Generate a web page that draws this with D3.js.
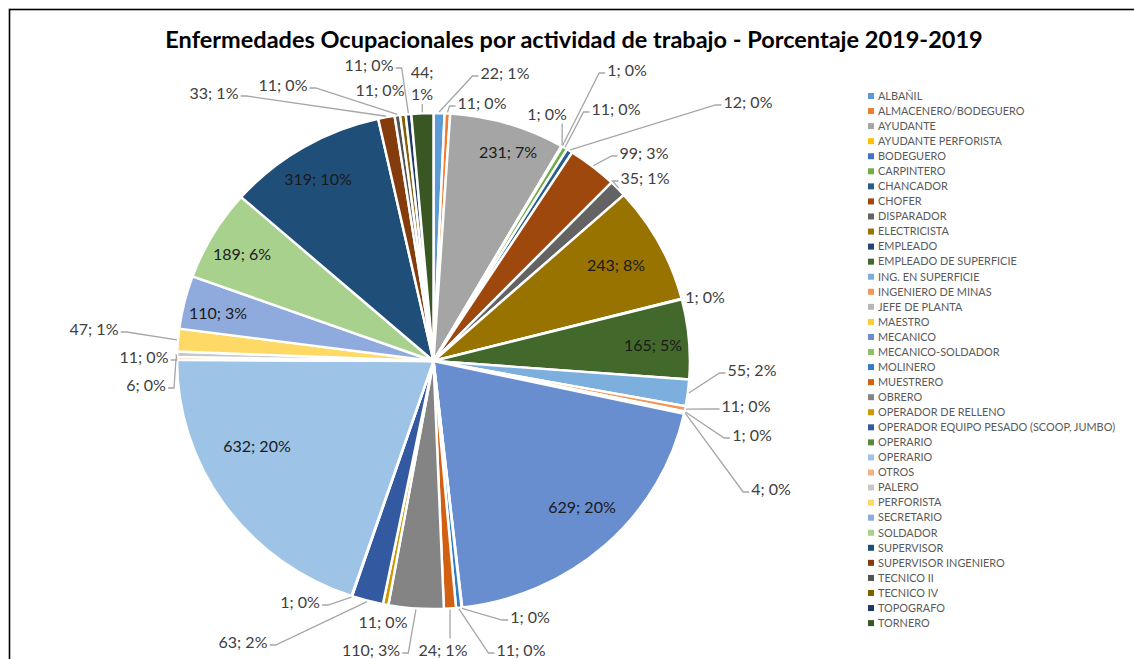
<!DOCTYPE html>
<html><head><meta charset="utf-8">
<script src="https://cdn.jsdelivr.net/npm/d3@7"></script>
<style>
body{margin:0;background:#fff}
svg{display:block}
text{font-family:Lato,"Open Sans",sans-serif}
</style>
</head><body>
<svg id="c" width="1134" height="659"></svg>
<script>
const title = "Enfermedades Ocupacionales por actividad de trabajo - Porcentaje 2019-2019";
const categories = ["ALBAÑIL","ALMACENERO/BODEGUERO","AYUDANTE","AYUDANTE PERFORISTA","BODEGUERO","CARPINTERO","CHANCADOR","CHOFER","DISPARADOR","ELECTRICISTA","EMPLEADO","EMPLEADO DE SUPERFICIE","ING. EN SUPERFICIE","INGENIERO DE MINAS","JEFE DE PLANTA","MAESTRO","MECANICO","MECANICO-SOLDADOR","MOLINERO","MUESTRERO","OBRERO","OPERADOR DE RELLENO","OPERADOR EQUIPO PESADO (SCOOP, JUMBO)","OPERARIO","OPERARIO","OTROS","PALERO","PERFORISTA","SECRETARIO","SOLDADOR","SUPERVISOR","SUPERVISOR INGENIERO","TECNICO II","TECNICO IV","TOPOGRAFO","TORNERO"];
const values = [22,11,231,1,1,11,12,99,35,243,1,165,55,11,1,4,629,1,11,24,110,11,63,1,632,6,11,47,110,189,319,33,11,11,11,44];
const colors = ["#5B9BD5","#ED7D31","#A5A5A5","#FFC000","#4472C4","#70AD47","#255E91","#9E480E","#636363","#997300","#264478","#43682B","#7CAFDD","#F1975A","#B7B7B7","#FFCD33","#698ED0","#8CC168","#327DC2","#D26012","#848484","#CC9A00","#335AA1","#5A8A39","#9DC3E6","#F4B183","#C9C9C9","#FFD966","#8FAADC","#A9D18E","#1F4E79","#843C0C","#525252","#7F6000","#203864","#385723"];

// label placement (layout only): text centre and leader style
const labelLayout = [
  {m:"out",x:505,y:73,l:"side"},{m:"out",x:482,y:103,l:"side"},{m:"in",x:508,y:152},
  {m:"out",x:547,y:114,l:"v"},{m:"out",x:627,y:70,l:"side"},{m:"out",x:616,y:109,l:"side"},
  {m:"out",x:748,y:102,l:"side"},{m:"out",x:644,y:153,l:"side"},{m:"out",x:645,y:178,l:"side"},
  {m:"in",x:616,y:265},{m:"out",x:705,y:297,l:"none"},{m:"in",x:653,y:345},
  {m:"out",x:752,y:370,l:"side"},{m:"out",x:746,y:406,l:"side"},{m:"out",x:752,y:435,l:"side"},
  {m:"out",x:771,y:489,l:"side"},{m:"in",x:582,y:507},{m:"out",x:530,y:617,l:"side"},
  {m:"out",x:521,y:650,l:"side"},{m:"out",x:443,y:650,l:"v"},{m:"out",x:371,y:650,l:"side"},
  {m:"out",x:383,y:622,l:"none"},{m:"out",x:243,y:642,l:"side"},{m:"out",x:300,y:602,l:"side"},
  {m:"in",x:257,y:446},{m:"out",x:146,y:385,l:"side"},{m:"out",x:144,y:357,l:"side"},
  {m:"out",x:94,y:329,l:"side"},{m:"in",x:218,y:313},{m:"in",x:242,y:254},
  {m:"in",x:318,y:179},{m:"out",x:214,y:93,l:"side"},{m:"out",x:283,y:85,l:"side"},
  {m:"out",x:380,y:90,l:"none"},{m:"out",x:369,y:65,l:"side"},{m:"out",x:422,y:84,l:"v",wrap:true}
];

const svg = d3.select("#c");
const cx = 433.5, cy = 361, r = 248, sx = 1.034;

// frame
svg.append("rect").attr("x",9.5).attr("y",9.5).attr("width",1400).attr("height",900)
  .attr("fill","#fff").attr("stroke","#000").attr("stroke-width",1.6);

// title fitted to reference width
const t = svg.append("text").attr("x",574).attr("y",48).attr("text-anchor","middle")
  .attr("font-weight","bold").attr("font-size",22).attr("fill","#000").text(title);
const tw = t.node().getComputedTextLength();
t.attr("font-size", 22*818/tw);

const total = d3.sum(values);
const data = categories.map((c,i)=>({c, v:values[i], i}));
const pie = d3.pie().value(d=>d.v).sort(null).startAngle(0).endAngle(2*Math.PI);
const arcs = pie(data);
const arc = d3.arc().innerRadius(0).outerRadius(r);

const g = svg.append("g").attr("transform",`translate(${cx},${cy}) scale(${sx},1)`);
g.selectAll("path").data(arcs).join("path")
  .attr("d",arc).attr("fill",d=>colors[d.data.i])
  .attr("stroke","#fff").attr("stroke-width",2.4).attr("stroke-linejoin","round");

const pt = (a,rr)=>[cx + sx*rr*Math.sin(a), cy - rr*Math.cos(a)];
const fmt = d => `${d.data.v}; ${Math.round(d.data.v/total*100)}%`;

const lg = svg.append("g");
const tg = svg.append("g");
arcs.forEach((d,k)=>{
  const L = labelLayout[k];
  const mid = (d.startAngle+d.endAngle)/2;
  const x=L.x, y=L.y;
  const txt = tg.append("text").attr("x",x).attr("y",y).attr("text-anchor","middle")
    .attr("font-size",16).attr("fill", L.m==="in" ? "#1a1a1a" : "#404040");
  if(L.wrap){
    const parts = fmt(d).split(" ");
    txt.append("tspan").attr("x",x).attr("dy","-0.35em").text(parts[0]);
    txt.append("tspan").attr("x",x).attr("dy","1.35em").text(parts[1]);
  } else {
    txt.attr("dy","0.35em").text(fmt(d));
  }
  if(L.m==="out" && L.l!=="none"){
    const b = txt.node().getBBox();
    const s = pt(mid, r+1);
    let pts;
    if(L.l==="v"){
      const ey = s[1] > b.y+b.height ? b.y+b.height+1 : b.y-1;
      pts = [s,[s[0],ey]];
    } else {
      const ly = y+3;
      if(s[0] < b.x){ pts=[s,[b.x-8,ly],[b.x-2,ly]]; }
      else { pts=[s,[b.x+b.width+8,ly],[b.x+b.width+2,ly]]; }
    }
    lg.append("path").attr("d",d3.line()(pts)).attr("fill","none")
      .attr("stroke","#a6a6a6").attr("stroke-width",1.3);
  }
});

// legend
const ly0 = 96, lstep = 15.06;
const leg = svg.append("g");
categories.forEach((c,i)=>{
  const yy = ly0 + i*lstep;
  leg.append("rect").attr("x",868).attr("y",yy-3).attr("width",6).attr("height",6).attr("fill",colors[i]);
  leg.append("text").attr("x",878).attr("y",yy).attr("dy","0.35em")
    .attr("font-size",10.9).attr("fill","#595959").text(c);
});
</script>
</body></html>
